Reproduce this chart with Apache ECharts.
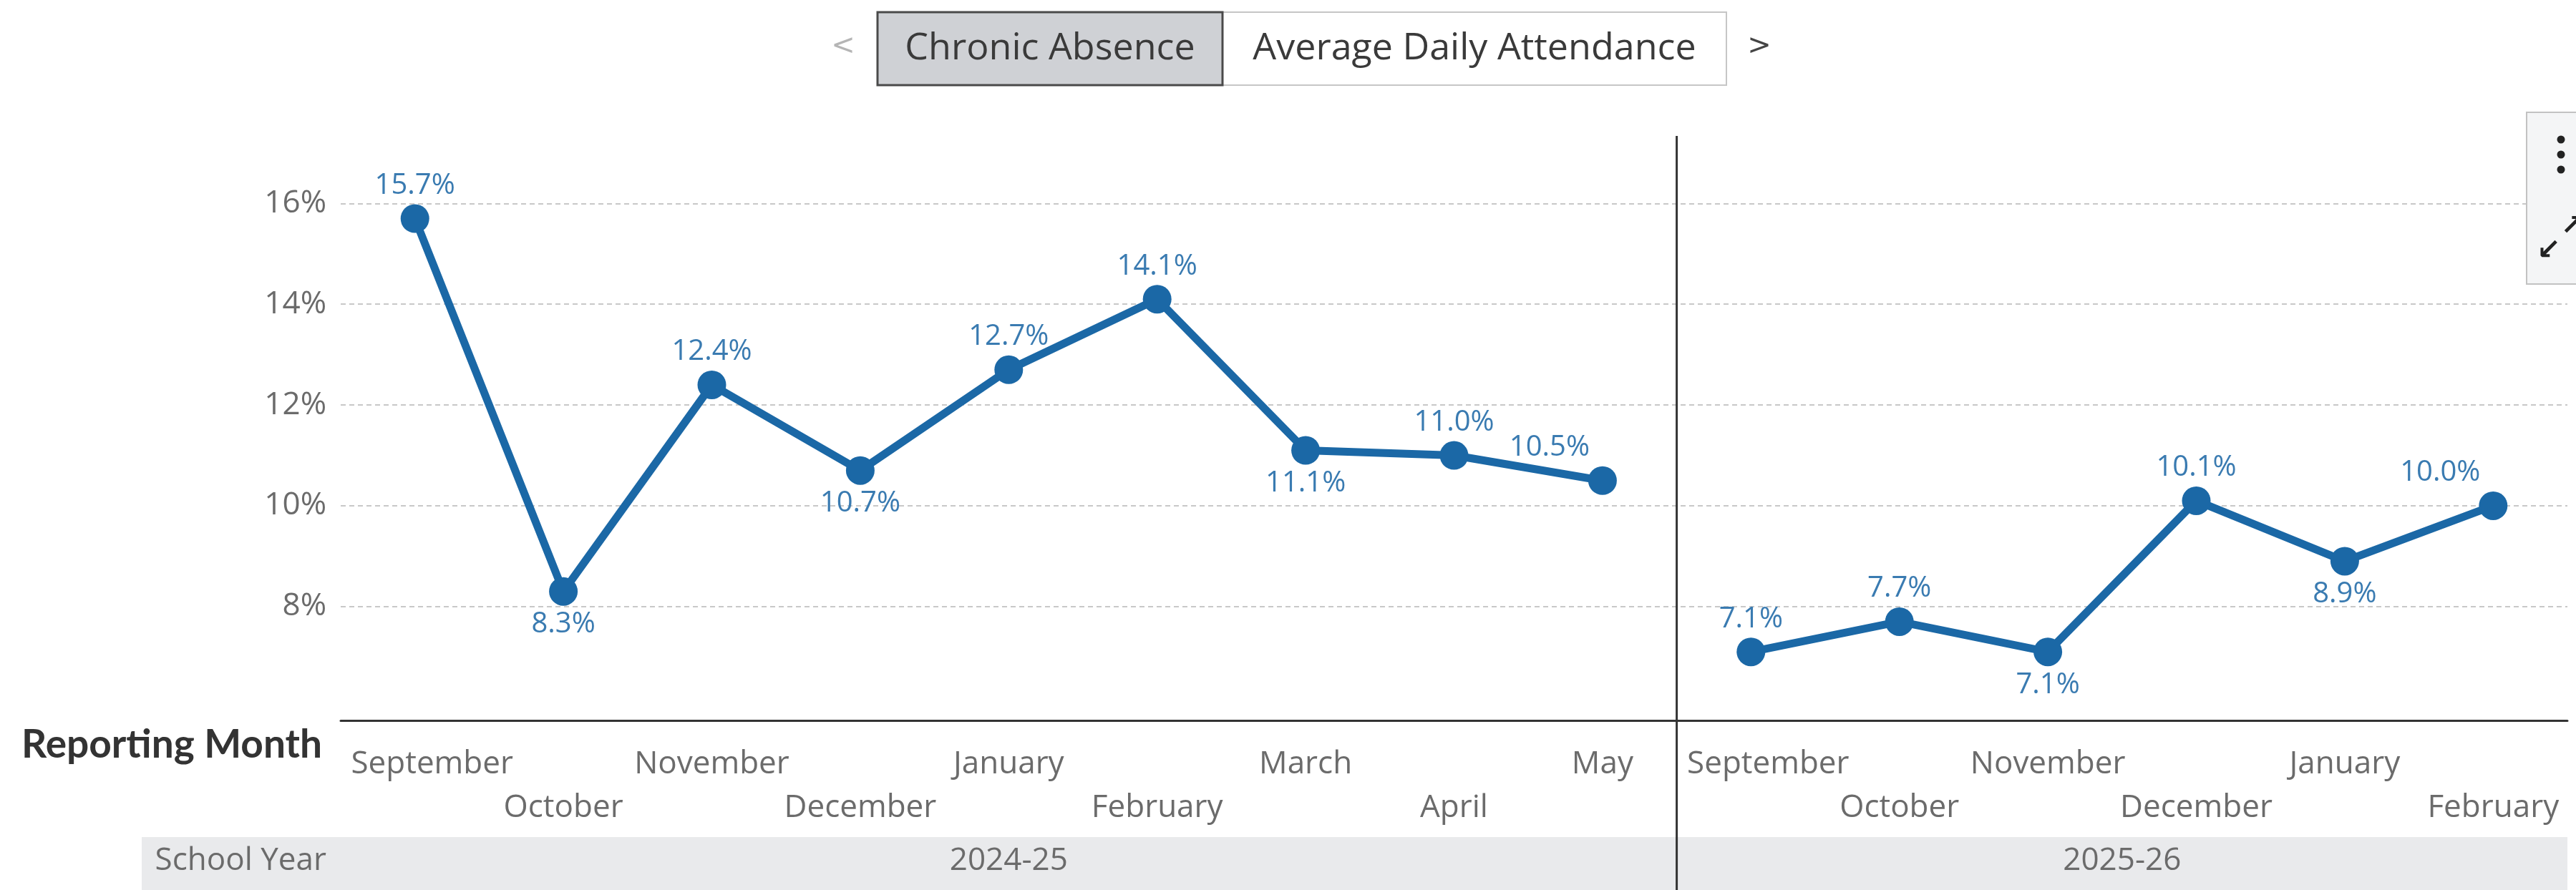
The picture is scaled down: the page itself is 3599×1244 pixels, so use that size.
<!DOCTYPE html>
<html><head><meta charset="utf-8">
<script src="https://cdn.jsdelivr.net/npm/echarts@6/dist/echarts.min.js"></script>
<style>html,body{margin:0;padding:0;background:#fff}#c{width:3599px;height:1244px}</style>
</head><body><div id="c"></div>
<script>
// ---------- data ----------
const schoolYears = ['2024-25', '2025-26'];
const months2425 = ['September', 'October', 'November', 'December', 'January', 'February', 'March', 'April', 'May'];
const values2425 = [15.7, 8.3, 12.4, 10.7, 12.7, 14.1, 11.1, 11.0, 10.5];
const months2526 = ['September', 'October', 'November', 'December', 'January', 'February'];
const values2526 = [7.1, 7.7, 7.1, 10.1, 8.9, 10.0];
const yTickValues = [8, 10, 12, 14, 16];
const yRange = [5.74, 17.34];
const tabs = ['Chronic Absence', 'Average Daily Attendance'];

// ---------- layout / style ----------
const FONT = 'Open Sans';
const BLUE = '#1b68a6';
const LABEL_BLUE = '#3a7bb1';
const GRAY = '#6b6b6b';
const GRID = { left: 476, right: 12, top: 190, bottom: 237 };
const AXIS_Y = 1244 - GRID.bottom;
const BAND_TOP = 1170;
const BAND_LEFT = 198;

const categories = months2425.concat(months2526);
const n = categories.length;
const BLANK = '-';
const yearSpans = [months2425.length, months2526.length];
const yearCenters = [];
let acc = 0;
yearSpans.forEach(s => { yearCenters.push(acc + s / 2); acc += s; });
const yearBoundary = months2425.length;
// position of each category within its own school year (for alternating label rows)
const localIndex = months2425.map((m, i) => i).concat(months2526.map((m, i) => i));

const labelBelow = [1, 3, 6, 11, 13];
const labelShiftLeft = [8, 14];

function buildData(vals) {
  return vals.map((v, i) => {
    if (v === BLANK) return BLANK;
    const label = {};
    if (labelBelow.includes(i)) label.position = 'bottom';
    if (labelShiftLeft.includes(i)) label.offset = [-74, 0];
    return { value: v, label };
  });
}
const dataA = buildData(values2425.concat(months2526.map(() => BLANK)));
const dataB = buildData(months2425.map(() => BLANK).concat(values2526));

const seriesBase = {
  type: 'line',
  xAxisIndex: 0, yAxisIndex: 0,
  symbol: 'circle', symbolSize: 40,
  lineStyle: { width: 11, color: BLUE },
  itemStyle: { color: BLUE },
  label: {
    show: true, position: 'top', distance: 6,
    formatter: p => Number(p.value).toFixed(1) + '%',
    fontFamily: FONT, fontSize: 40, color: LABEL_BLUE
  },
  emphasis: { disabled: true },
  animation: false
};

const chart = echarts.init(document.getElementById('c'), null, { renderer: 'canvas' });
const option = {
  animation: false,
  grid: Object.assign({ containLabel: false }, GRID),
  xAxis: [{
    type: 'category', data: categories, boundaryGap: true, gridIndex: 0, position: 'bottom',
    axisLine: { lineStyle: { color: '#333', width: 3 } },
    axisTick: { alignWithLabel: true, length: 25, lineStyle: { color: '#333', width: 2.5 } },
    axisLabel: {
      interval: 0, margin: 31, lineHeight: 61,
      formatter: (v, i) => (localIndex[i] % 2 === 1 ? '{sp| }\n' : '') + '{' + (v === 'September' ? 'sep' : 'm') + '|' + v + '}',
      rich: {
        sp: { fontFamily: FONT, fontSize: 44, lineHeight: 61, color: GRAY },
        m: { fontFamily: FONT, fontSize: 44, lineHeight: 61, color: GRAY },
        sep: { fontFamily: FONT, fontSize: 44, lineHeight: 61, color: GRAY, padding: [0, 0, 0, 48] }
      }
    },
    splitLine: { show: false },
    name: 'Reporting Month', nameLocation: 'start', nameGap: 26, nameMoveOverlap: false,
    nameTextStyle: { fontFamily: 'Lato', fontWeight: 'bold', fontSize: 55, color: '#333', align: 'right', verticalAlign: 'top', lineHeight: 68 }
  }, {
    type: 'value', min: 0, max: n, gridIndex: 0, position: 'bottom', offset: BAND_TOP - AXIS_Y,
    axisLine: { show: false }, axisTick: { show: false }, splitLine: { show: false },
    axisLabel: {
      customValues: yearCenters, margin: 0, lineHeight: 66,
      formatter: v => schoolYears[yearCenters.indexOf(v)] || '',
      fontFamily: FONT, fontSize: 44, color: GRAY
    },
    name: 'School Year', nameLocation: 'start', nameGap: 20, nameMoveOverlap: false,
    nameTextStyle: { fontFamily: FONT, fontSize: 44, color: GRAY, align: 'right', verticalAlign: 'top', lineHeight: 66 }
  }],
  yAxis: {
    type: 'value', min: yRange[0], max: yRange[1],
    axisLine: { show: false },
    axisTick: { show: false, customValues: yTickValues },
    axisLabel: { customValues: yTickValues, formatter: v => v + '%', margin: 20, fontFamily: FONT, fontSize: 44, color: GRAY },
    splitLine: { show: true, lineStyle: { type: [7, 5], color: '#c8c8c8', width: 2 } }
  },
  series: [
    Object.assign({}, seriesBase, { data: dataA }),
    Object.assign({}, seriesBase, { data: dataB })
  ]
};
chart.setOption(option);

const xDiv = chart.convertToPixel({ xAxisIndex: 1 }, yearBoundary);
const yTop = chart.convertToPixel({ yAxisIndex: 0 }, yRange[1]);
const xRight = 3599 - GRID.right;

chart.setOption({
  graphic: [
    { type: 'rect', z: -10, silent: true, shape: { x: BAND_LEFT, y: BAND_TOP, width: xRight - BAND_LEFT, height: 1244 - BAND_TOP }, style: { fill: '#e9eaec' } },
    { type: 'line', z: 50, silent: true, shape: { x1: xDiv, y1: yTop, x2: xDiv, y2: 1244 }, style: { stroke: '#333', lineWidth: 3 } },
    // tab buttons
    { type: 'rect', z: 10, shape: { x: 1708, y: 17, width: 704, height: 102 }, style: { fill: '#fff', stroke: '#c6c6c6', lineWidth: 2 } },
    { type: 'rect', z: 11, shape: { x: 1226, y: 17, width: 482, height: 102 }, style: { fill: '#cfd1d5', stroke: '#4a4a4a', lineWidth: 3 } },
    { type: 'text', z: 12, style: { x: 1467, y: 68, text: tabs[0], fontFamily: FONT, fontSize: 52, fill: '#3a3a3a', align: 'center', verticalAlign: 'middle' } },
    { type: 'text', z: 12, style: { x: 2060, y: 68, text: tabs[1], fontFamily: FONT, fontSize: 52, fill: '#3a3a3a', align: 'center', verticalAlign: 'middle' } },
    { type: 'text', z: 12, style: { x: 1178, y: 66, text: '<', fontFamily: 'DejaVu Sans', fontSize: 40, fill: '#b5b5b5', align: 'center', verticalAlign: 'middle' } },
    { type: 'text', z: 12, style: { x: 2458, y: 66, text: '>', fontFamily: 'DejaVu Sans', fontSize: 40, fill: '#444', align: 'center', verticalAlign: 'middle' } },
    // toolbar box at right
    { type: 'rect', z: 20, shape: { x: 3530, y: 157, width: 90, height: 240 }, style: { fill: '#f4f5f6', stroke: '#c2c2c2', lineWidth: 2 } },
    { type: 'circle', z: 21, shape: { cx: 3578, cy: 195, r: 5.5 }, style: { fill: '#222' } },
    { type: 'circle', z: 21, shape: { cx: 3578, cy: 216, r: 5.5 }, style: { fill: '#222' } },
    { type: 'circle', z: 21, shape: { cx: 3578, cy: 237, r: 5.5 }, style: { fill: '#222' } },
    { type: 'text', z: 21, style: { x: 3561, y: 352, text: '\u2199', fontFamily: 'DejaVu Sans', fontWeight: 'bold', fontSize: 40, fill: '#222', align: 'center', verticalAlign: 'middle' } },
    { type: 'text', z: 21, style: { x: 3594, y: 318, text: '\u2197', fontFamily: 'DejaVu Sans', fontWeight: 'bold', fontSize: 40, fill: '#222', align: 'center', verticalAlign: 'middle' } }
  ]
});
</script>
</body></html>
